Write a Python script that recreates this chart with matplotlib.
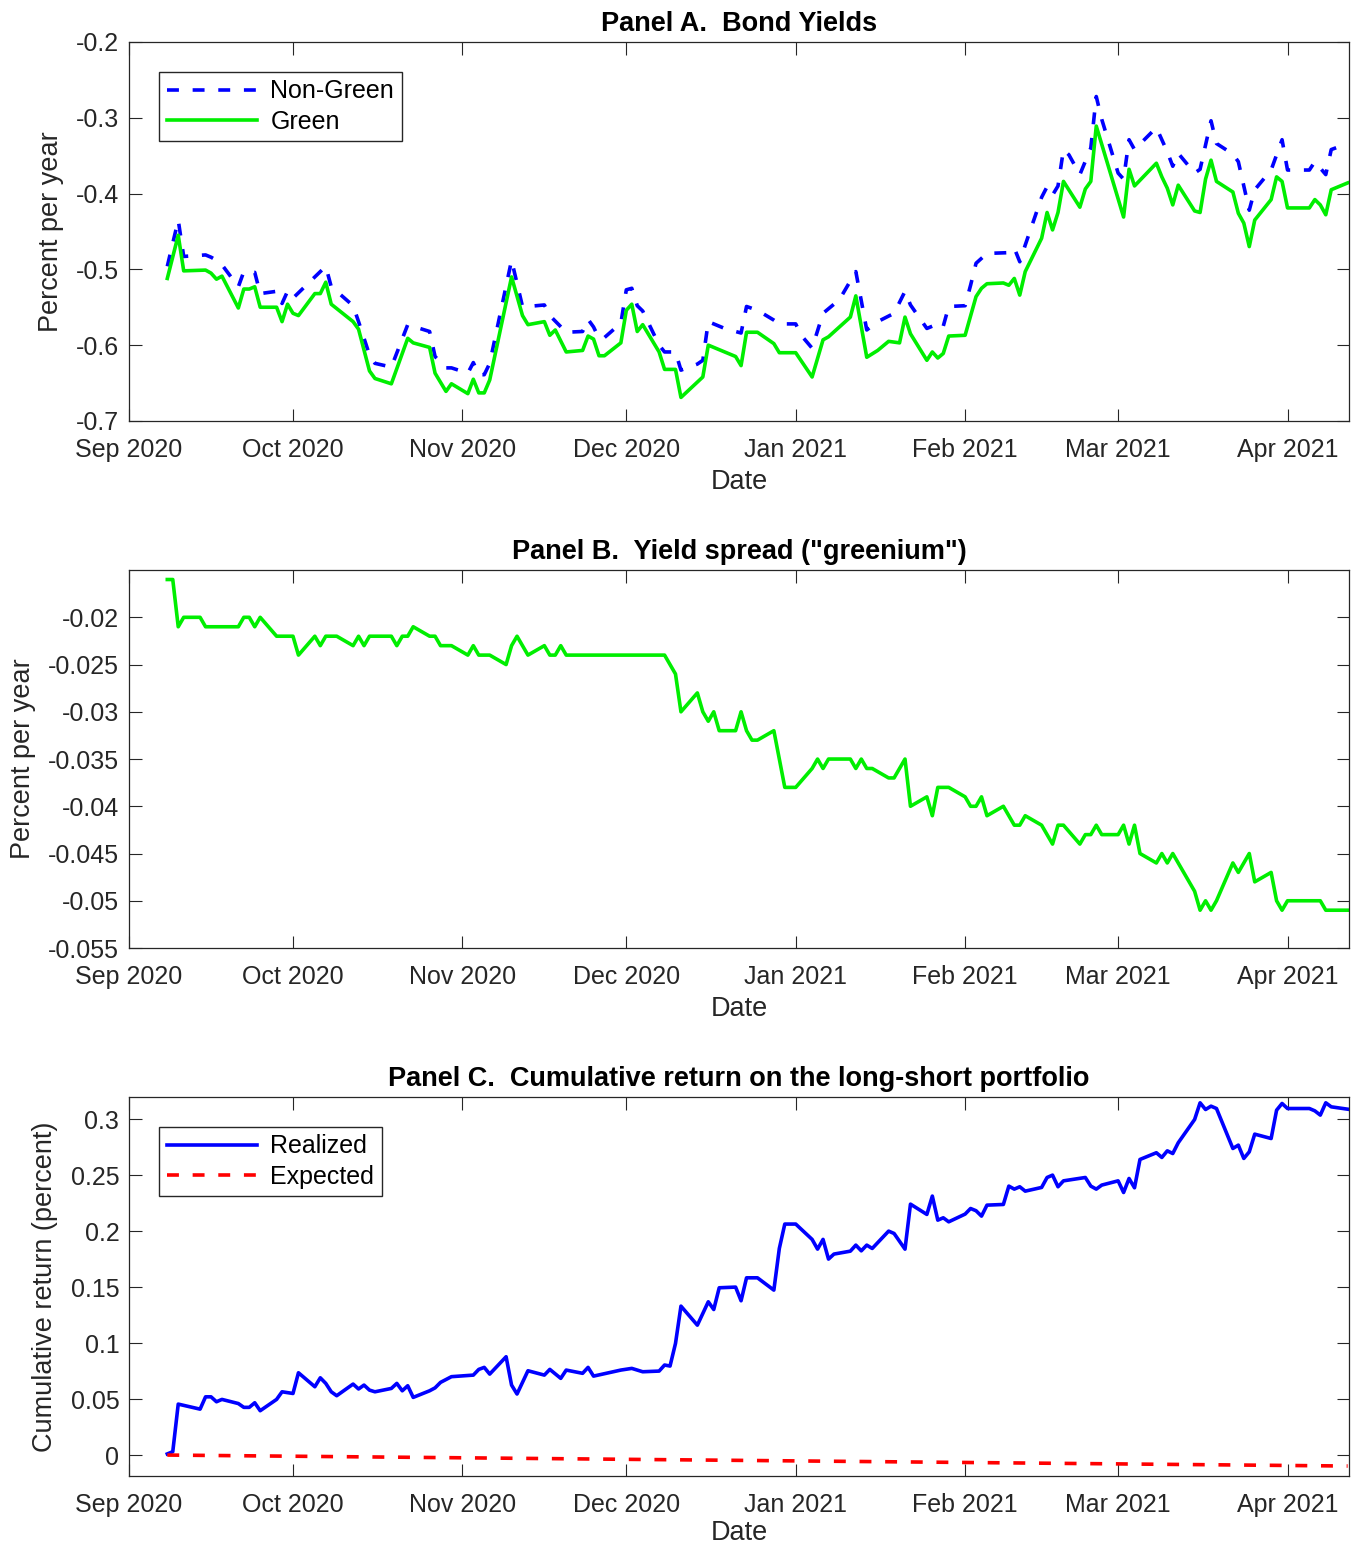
import numpy as np
import matplotlib
matplotlib.use('Agg')
import matplotlib.pyplot as plt
import matplotlib.dates as mdates
from matplotlib.ticker import FormatStrFormatter, FuncFormatter


# Day counts are measured from 1 Sep 2020
START = np.datetime64('2020-09-01')

# Panel A: bond yields (percent per year)
a_day_ng = [7, 9, 10, 14, 15, 16, 17, 20, 21, 23, 24, 27, 28, 29, 30, 36, 37, 38, 41, 42,
            44, 45, 48, 51, 55, 56, 58, 59, 62, 63, 64, 65, 66, 70, 72, 73, 76, 77, 80, 83,
            84, 85, 86, 87, 90, 91, 92, 93, 94, 97, 98, 100, 101, 104, 105, 106, 109, 112, 113, 115,
            118, 119, 122, 123, 125, 127, 130, 133, 135, 137, 140, 142, 143, 146, 147, 148, 149, 150, 153, 154,
            155, 157, 161, 162, 163, 164, 167, 168, 169, 170, 171, 172, 174, 176, 177, 178, 181, 182, 183, 184,
            188, 190, 191, 192, 195, 196, 198, 199, 202, 203, 205, 206, 209, 211, 212, 216, 217, 219, 220, 223]
a_ng = [-0.496, -0.435, -0.483, -0.481, -0.484, -0.488, -0.494, -0.523, -0.503, -0.504,
        -0.532, -0.529, -0.545, -0.529, -0.538, -0.496, -0.523, -0.529, -0.548, -0.569,
        -0.613, -0.624, -0.629, -0.573, -0.582, -0.615, -0.630, -0.630, -0.637, -0.623,
        -0.639, -0.639, -0.624, -0.488, -0.549, -0.549, -0.547, -0.561, -0.583, -0.582,
        -0.566, -0.576, -0.591, -0.590, -0.571, -0.527, -0.525, -0.548, -0.555, -0.600,
        -0.609, -0.609, -0.633, -0.625, -0.620, -0.569, -0.578, -0.584, -0.549, -0.554,
        -0.567, -0.572, -0.572, -0.587, -0.604, -0.558, -0.540, -0.503, -0.580, -0.569,
        -0.558, -0.529, -0.547, -0.578, -0.575, -0.570, -0.575, -0.549, -0.548, -0.521,
        -0.492, -0.479, -0.478, -0.472, -0.490, -0.468, -0.405, -0.391, -0.402, -0.390,
        -0.342, -0.349, -0.375, -0.340, -0.272, -0.302, -0.373, -0.381, -0.329, -0.342,
        -0.313, -0.345, -0.364, -0.347, -0.373, -0.368, -0.304, -0.334, -0.348, -0.358,
        -0.422, -0.395, -0.369, -0.329, -0.369, -0.369, -0.358, -0.375, -0.342, -0.334]

a_day_g = [7, 9, 10, 14, 15, 16, 17, 20, 21, 22, 23, 24, 27, 28, 29, 30, 31, 34, 35, 36,
           37, 41, 42, 44, 45, 48, 51, 52, 55, 56, 58, 59, 62, 63, 64, 65, 66, 70, 72, 73,
           76, 77, 78, 80, 83, 84, 85, 86, 87, 90, 91, 92, 93, 94, 97, 98, 100, 101, 105, 106,
           109, 111, 112, 113, 115, 118, 119, 122, 125, 127, 128, 132, 133, 135, 137, 139, 141, 142, 143, 146,
           147, 148, 149, 150, 153, 155, 156, 157, 160, 161, 162, 163, 164, 167, 168, 169, 170, 171, 174, 175,
           176, 177, 182, 183, 184, 188, 189, 190, 191, 192, 195, 196, 197, 198, 199, 202, 203, 204, 205, 206,
           209, 210, 211, 212, 216, 217, 218, 219, 220, 223]
a_g = [-0.512, -0.455, -0.502, -0.501, -0.505, -0.513, -0.509, -0.551, -0.526, -0.526,
       -0.523, -0.550, -0.550, -0.569, -0.546, -0.558, -0.561, -0.532, -0.532, -0.517,
       -0.546, -0.569, -0.579, -0.634, -0.644, -0.651, -0.591, -0.597, -0.603, -0.637,
       -0.661, -0.651, -0.664, -0.645, -0.663, -0.663, -0.646, -0.510, -0.561, -0.573,
       -0.569, -0.587, -0.580, -0.609, -0.607, -0.588, -0.592, -0.614, -0.614, -0.597,
       -0.554, -0.546, -0.582, -0.573, -0.609, -0.632, -0.632, -0.669, -0.642, -0.600,
       -0.609, -0.615, -0.627, -0.583, -0.583, -0.598, -0.610, -0.610, -0.642, -0.593,
       -0.589, -0.563, -0.535, -0.616, -0.607, -0.595, -0.597, -0.563, -0.585, -0.620,
       -0.609, -0.617, -0.611, -0.588, -0.587, -0.536, -0.525, -0.519, -0.518, -0.521,
       -0.512, -0.534, -0.503, -0.459, -0.425, -0.448, -0.425, -0.384, -0.418, -0.394,
       -0.384, -0.311, -0.431, -0.368, -0.390, -0.360, -0.378, -0.393, -0.415, -0.389,
       -0.423, -0.425, -0.381, -0.356, -0.384, -0.398, -0.426, -0.439, -0.470, -0.435,
       -0.408, -0.378, -0.384, -0.419, -0.419, -0.408, -0.415, -0.428, -0.395, -0.386]

# Panel B: yield spread, green minus non-green
b_day = [7, 8, 9, 10, 13, 14, 20, 21, 22, 23, 24, 27, 30, 31, 34, 35, 36, 38, 41, 42,
         43, 44, 48, 49, 50, 51, 52, 55, 56, 57, 59, 62, 63, 64, 66, 69, 70, 71, 73, 76,
         77, 78, 79, 80, 98, 100, 101, 104, 105, 106, 107, 108, 111, 112, 113, 114, 115, 118, 120, 122,
         125, 126, 127, 128, 132, 133, 134, 135, 136, 139, 140, 142, 143, 146, 147, 148, 150, 153, 154, 155,
         156, 157, 160, 162, 163, 164, 167, 169, 170, 171, 174, 175, 176, 177, 178, 181, 182, 183, 184, 185,
         188, 189, 190, 191, 195, 196, 197, 198, 199, 202, 203, 205, 206, 209, 210, 211, 212, 218, 219, 223]
b_spread = [-0.016, -0.016, -0.021, -0.020, -0.020, -0.021, -0.021, -0.020, -0.020, -0.021,
            -0.020, -0.022, -0.022, -0.024, -0.022, -0.023, -0.022, -0.022, -0.023, -0.022,
            -0.023, -0.022, -0.022, -0.023, -0.022, -0.022, -0.021, -0.022, -0.022, -0.023,
            -0.023, -0.024, -0.023, -0.024, -0.024, -0.025, -0.023, -0.022, -0.024, -0.023,
            -0.024, -0.024, -0.023, -0.024, -0.024, -0.026, -0.030, -0.028, -0.030, -0.031,
            -0.030, -0.032, -0.032, -0.030, -0.032, -0.033, -0.033, -0.032, -0.038, -0.038,
            -0.036, -0.035, -0.036, -0.035, -0.035, -0.036, -0.035, -0.036, -0.036, -0.037,
            -0.037, -0.035, -0.040, -0.039, -0.041, -0.038, -0.038, -0.039, -0.040, -0.040,
            -0.039, -0.041, -0.040, -0.042, -0.042, -0.041, -0.042, -0.044, -0.042, -0.042,
            -0.044, -0.043, -0.043, -0.042, -0.043, -0.043, -0.042, -0.044, -0.042, -0.045,
            -0.046, -0.045, -0.046, -0.045, -0.049, -0.051, -0.050, -0.051, -0.050, -0.046,
            -0.047, -0.045, -0.048, -0.047, -0.050, -0.051, -0.050, -0.050, -0.051, -0.051]

# Panel C: cumulative return on the long-short portfolio (percent)
c_day = [7, 8, 9, 13, 14, 15, 16, 17, 20, 21, 22, 23, 24, 27, 28, 30, 31, 34, 35, 36,
         37, 38, 41, 42, 43, 44, 45, 48, 49, 50, 51, 52, 55, 56, 57, 59, 63, 64, 65, 66,
         69, 70, 71, 73, 76, 77, 79, 80, 83, 84, 85, 90, 92, 94, 97, 98, 99, 100, 101, 104,
         106, 107, 108, 111, 112, 113, 115, 118, 119, 120, 122, 125, 126, 127, 128, 129, 132, 133, 134, 135,
         136, 139, 140, 142, 143, 146, 147, 148, 149, 150, 153, 154, 155, 156, 157, 160, 161, 162, 163, 164,
         167, 168, 169, 170, 171, 175, 176, 177, 178, 181, 182, 183, 184, 185, 188, 189, 190, 191, 192, 195,
         196, 197, 198, 199, 202, 203, 204, 205, 206, 209, 210, 211, 212, 216, 217, 218, 219, 220, 223]
c_real = [0.001, 0.003, 0.0455, 0.041, 0.052, 0.052, 0.0476, 0.0497, 0.046, 0.0426,
          0.0426, 0.0467, 0.0396, 0.0497, 0.0565, 0.055, 0.0735, 0.061, 0.069, 0.064,
          0.0565, 0.053, 0.0634, 0.059, 0.0625, 0.058, 0.0565, 0.0595, 0.064, 0.0574,
          0.0619, 0.0515, 0.0574, 0.060, 0.0649, 0.070, 0.0714, 0.0765, 0.0783, 0.0723,
          0.0878, 0.0625, 0.0545, 0.0753, 0.0714, 0.0765, 0.0685, 0.0759, 0.073, 0.0783,
          0.0705, 0.0759, 0.0774, 0.0744, 0.075, 0.0804, 0.0795, 0.0997, 0.133, 0.116,
          0.1369, 0.130, 0.1494, 0.150, 0.1378, 0.1583, 0.1583, 0.1473, 0.1845, 0.2063,
          0.2063, 0.1926, 0.1839, 0.1926, 0.175, 0.1795, 0.1821, 0.1875, 0.1824, 0.1875,
          0.1845, 0.200, 0.1979, 0.1839, 0.2241, 0.2149, 0.2313, 0.2098, 0.2119, 0.2083,
          0.2152, 0.2202, 0.2182, 0.2134, 0.2232, 0.2238, 0.2402, 0.2375, 0.2396, 0.2357,
          0.239, 0.2479, 0.250, 0.2396, 0.2449, 0.2479, 0.2402, 0.2375, 0.2411, 0.2449,
          0.2345, 0.247, 0.2387, 0.264, 0.270, 0.2658, 0.2717, 0.2693, 0.2789, 0.2997,
          0.3146, 0.3086, 0.3116, 0.3095, 0.2738, 0.2768, 0.2649, 0.2708, 0.2866, 0.2827,
          0.308, 0.314, 0.3095, 0.3095, 0.3074, 0.3036, 0.3146, 0.311, 0.3089]
c_exp_day = [7, 223]
c_exp = [0.0, -0.0098]


def to_dates(days):
    return START + np.array(days).astype('timedelta64[D]')


plt.rcParams['font.family'] = ['Liberation Sans', 'DejaVu Sans']
plt.rcParams['font.size'] = 18
plt.rcParams['axes.unicode_minus'] = False

DARK = (0.15, 0.15, 0.15)
LW = 2.6

fig = plt.figure(figsize=(13.57, 15.47), dpi=100)
ax_a = fig.add_axes([0.0951, 0.7279, 0.899, 0.2450])
ax_b = fig.add_axes([0.0951, 0.3872, 0.899, 0.2443])
ax_c = fig.add_axes([0.0951, 0.0459, 0.899, 0.2450])

month_ticks = to_dates([0, 30, 61, 91, 122, 153, 181, 212])


def style_axes(ax, title, ylabel, xpad=5.5):
    ax.set_xlim(to_dates([0])[0], to_dates([223])[0] + np.timedelta64(6, 'h'))
    ax.set_xticks(month_ticks)
    ax.xaxis.set_major_formatter(mdates.DateFormatter('%b %Y'))
    ax.tick_params(direction='in', length=9, width=0.8, color=DARK,
                   top=True, right=True, labelcolor=DARK)
    ax.tick_params(axis='x', pad=12)
    ax.tick_params(axis='y', pad=7)
    for sp in ax.spines.values():
        sp.set_color(DARK)
        sp.set_linewidth(0.9)
    ax.set_title(title, fontsize=19.5, fontweight='bold', pad=8)
    ax.set_xlabel('Date', fontsize=19.5, color=DARK, labelpad=xpad)
    ax.set_ylabel(ylabel, fontsize=19.5, color=DARK, labelpad=9)


def legend_box(ax):
    leg = ax.legend(loc='upper left', fontsize=18, handlelength=3.6,
                    handletextpad=0.55, borderaxespad=1.2, borderpad=0.3,
                    labelspacing=0.25, fancybox=False, framealpha=1)
    leg.get_frame().set_edgecolor(DARK)
    leg.get_frame().set_linewidth(1.0)


# Panel A
ax_a.plot(to_dates(a_day_ng), a_ng, color='#0000ff', lw=LW, ls='--',
          dashes=(3.3, 3.8), label='Non-Green')
ax_a.plot(to_dates(a_day_g), a_g, color='#00ee00', lw=LW, label='Green')
ax_a.set_ylim(-0.7, -0.2)
ax_a.set_yticks(np.arange(-0.7, -0.19, 0.1))
ax_a.yaxis.set_major_formatter(FormatStrFormatter('%.1f'))
style_axes(ax_a, 'Panel A.  Bond Yields', 'Percent per year')
legend_box(ax_a)

# Panel B
ax_b.plot(to_dates(b_day), b_spread, color='#00ee00', lw=LW)
ax_b.set_ylim(-0.055, -0.015)
ax_b.set_yticks(np.linspace(-0.055, -0.02, 8))
ax_b.yaxis.set_major_formatter(FuncFormatter(lambda v, p: '%g' % round(v, 3)))
style_axes(ax_b, 'Panel B.  Yield spread ("greenium")', 'Percent per year')

# Panel C
ax_c.plot(to_dates(c_day), c_real, color='#0000ff', lw=LW, label='Realized')
ax_c.plot(to_dates(c_exp_day), c_exp, color='#ff0000', lw=LW, ls='--',
          dashes=(3.3, 3.8), label='Expected')
ax_c.set_ylim(-0.0187, 0.3198)
ax_c.set_yticks(np.linspace(0, 0.3, 7))
ax_c.yaxis.set_major_formatter(FuncFormatter(lambda v, p: '%g' % round(v, 3)))
style_axes(ax_c, 'Panel C.  Cumulative return on the long-short portfolio',
           'Cumulative return (percent)', xpad=2.5)
legend_box(ax_c)

fig.savefig('out.png', dpi=100)
